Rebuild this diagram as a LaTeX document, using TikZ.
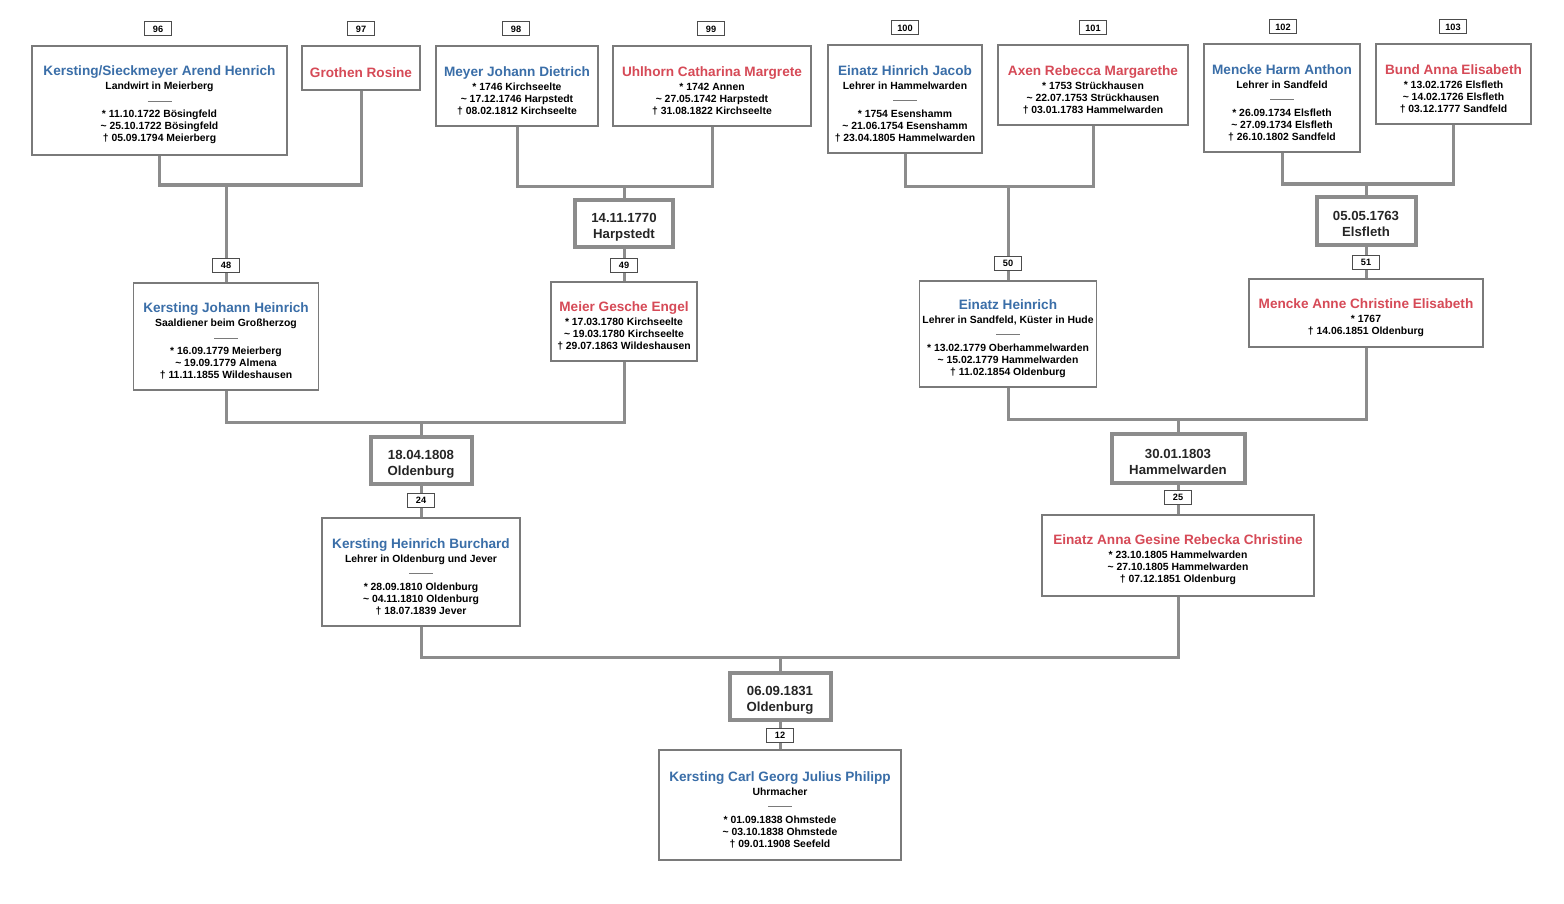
\documentclass[tikz,border=0pt]{standalone}
\usepackage{fontspec}
\setmainfont{Liberation Sans}
\usepackage{xcolor}
\usepackage{tikz}
\usetikzlibrary{backgrounds}
\definecolor{mannblau}{HTML}{3A6EA8}
\definecolor{fraurot}{HTML}{D64A57}
\definecolor{liniengrau}{HTML}{8C8C8C}
\definecolor{rahmengrau}{HTML}{7A7A7A}
\newcommand{\namefont}{\fontsize{6.8}{6}\selectfont}
\newcommand{\mann}[1]{{\rule{0pt}{9.5pt}\namefont\color{mannblau}#1}}
\newcommand{\frau}[1]{{\rule{0pt}{9.5pt}\namefont\color{fraurot}#1}}
\newcommand{\trenner}{\textcolor{rahmengrau}{\rule[0.4ex]{12pt}{0.4pt}}}
\newcommand{\geboren}{*~}
\newcommand{\getauft}{\textasciitilde~}
\newcommand{\gestorben}{†~}

\begin{document}
\begin{tikzpicture}[x=0.5pt, y=-0.5pt,
    every node/.style={font=\fontsize{5.2}{6}\selectfont\bfseries, align=center, inner sep=0pt},
    person/.style 2 args={draw=rahmengrau, line width=0.8pt, fill=white,
      minimum width=#1*0.5pt, minimum height=#2*0.5pt},                  % Personenkasten
    heirat/.style 2 args={draw=liniengrau, line width=2pt, fill=white,
      font=\fontsize{6.6}{8}\selectfont\bfseries, text=black!85,
      minimum width=#1*0.5pt, minimum height=#2*0.5pt},                  % Heiratsdatum
    nr/.style={draw=black!70, line width=0.5pt, fill=white, minimum width=13.5pt,
      minimum height=7pt, font=\fontsize{4.6}{5}\selectfont\bfseries},   % Kekule-Nummer
    ln/.style={draw=liniengrau, line width=1.5pt}
  ]
  \useasboundingbox (0,0) rectangle (1564,904);

  % ============ Generation 96--103 ==========================
  \node[nr] (n96) at (158,29) {96};
  \node[nr] (n97) at (361,29) {97};
  \node[nr] (n98) at (516,29) {98};
  \node[nr] (n99) at (711,29) {99};
  \node[nr] (n100) at (905,28) {100};
  \node[nr] (n101) at (1093,28) {101};
  \node[nr] (n102) at (1283,27) {102};
  \node[nr] (n103) at (1453,27) {103};

  \node[person={255}{109}] (p96) at (159.5,100.5)
    {\mann{Kersting/Sieckmeyer Arend Henrich}\\[1pt]Landwirt in Meierberg\\[1pt]\trenner\\[1pt]
     \geboren 11.10.1722 Bösingfeld\\\getauft 25.10.1722 Bösingfeld\\\gestorben 05.09.1794 Meierberg};
  \node[person={118}{44}] (p97) at (361,68) {\frau{Grothen Rosine}};
  \node[person={162}{80}] (p98) at (517,86)
    {\mann{Meyer Johann Dietrich}\\[1pt]\geboren 1746 Kirchseelte\\\getauft 17.12.1746 Harpstedt\\\gestorben 08.02.1812 Kirchseelte};
  \node[person={198}{80}] (p99) at (712,86)
    {\frau{Uhlhorn Catharina Margrete}\\[1pt]\geboren 1742 Annen\\\getauft 27.05.1742 Harpstedt\\\gestorben 31.08.1822 Kirchseelte};
  \node[person={154}{108}] (p100) at (905,99)
    {\mann{Einatz Hinrich Jacob}\\[1pt]Lehrer in Hammelwarden\\[1pt]\trenner\\[1pt]
     \geboren 1754 Esenshamm\\\getauft 21.06.1754 Esenshamm\\\gestorben 23.04.1805 Hammelwarden};
  \node[person={190}{80}] (p101) at (1093,85)
    {\frau{Axen Rebecca Margarethe}\\[1pt]\geboren 1753 Strückhausen\\\getauft 22.07.1753 Strückhausen\\\gestorben 03.01.1783 Hammelwarden};
  \node[person={156}{108}] (p102) at (1282,98)
    {\mann{Mencke Harm Anthon}\\[1pt]Lehrer in Sandfeld\\[1pt]\trenner\\[1pt]
     \geboren 26.09.1734 Elsfleth\\\getauft 27.09.1734 Elsfleth\\\gestorben 26.10.1802 Sandfeld};
  \node[person={155}{80}] (p103) at (1453.5,84)
    {\frau{Bund Anna Elisabeth}\\[1pt]\geboren 13.02.1726 Elsfleth\\\getauft 14.02.1726 Elsfleth\\\gestorben 03.12.1777 Sandfeld};

  \coordinate (j48) at (226,185);
  \coordinate (j49) at (624,186);
  \coordinate (j50) at (1008,186);
  \coordinate (j51) at (1366,184);

  % ============ Generation 48--51 ===========================
  \node[heirat={98}{47}] (m49) at (624,223.5) {\rule{0pt}{8pt}14.11.1770\\Harpstedt};
  \node[heirat={99}{48}] (m51) at (1366,221) {\rule{0pt}{8pt}05.05.1763\\Elsfleth};

  \node[nr] (n48) at (226,265) {48};
  \node[nr] (n49) at (624,265) {49};
  \node[nr] (n50) at (1008,263) {50};
  \node[nr] (n51) at (1366,262) {51};

  \node[person={185}{107}] (p48) at (226,336.5)
    {\mann{Kersting Johann Heinrich}\\[1pt]Saaldiener beim Großherzog\\[1pt]\trenner\\[1pt]
     \geboren 16.09.1779 Meierberg\\\getauft 19.09.1779 Almena\\\gestorben 11.11.1855 Wildeshausen};
  \node[person={146}{79}] (p49) at (624,321.5)
    {\frau{Meier Gesche Engel}\\[1pt]\geboren 17.03.1780 Kirchseelte\\\getauft 19.03.1780 Kirchseelte\\\gestorben 29.07.1863 Wildeshausen};
  \node[person={177}{106}] (p50) at (1008,334)
    {\mann{Einatz Heinrich}\\[1pt]Lehrer in Sandfeld, Küster in Hude\\[1pt]\trenner\\[1pt]
     \geboren 13.02.1779 Oberhammelwarden\\\getauft 15.02.1779 Hammelwarden\\\gestorben 11.02.1854 Oldenburg};
  \node[person={234}{68}] (p51) at (1366,313)
    {\frau{Mencke Anne Christine Elisabeth}\\[1pt]\geboren 1767\\\gestorben 14.06.1851 Oldenburg};

  \coordinate (j24) at (421,422);
  \coordinate (j25) at (1178,419);

  % ============ Generation 24--25 ===========================
  \node[heirat={101}{47}] (m24) at (421,460.5) {\rule{0pt}{8pt}18.04.1808\\Oldenburg};
  \node[heirat={133}{49}] (m25) at (1178,458.5) {\rule{0pt}{8pt}30.01.1803\\Hammelwarden};

  \node[nr] (n24) at (421,500) {24};
  \node[nr] (n25) at (1178,497) {25};

  \node[person={198}{108}] (p24) at (421,572)
    {\mann{Kersting Heinrich Burchard}\\[1pt]Lehrer in Oldenburg und Jever\\[1pt]\trenner\\[1pt]
     \geboren 28.09.1810 Oldenburg\\\getauft 04.11.1810 Oldenburg\\\gestorben 18.07.1839 Jever};
  \node[person={272}{81}] (p25) at (1178,555.5)
    {\frau{Einatz Anna Gesine Rebecka Christine}\\[1pt]\geboren 23.10.1805 Hammelwarden\\\getauft 27.10.1805 Hammelwarden\\\gestorben 07.12.1851 Oldenburg};

  \coordinate (j12) at (780,657);

  % ============ Proband 12 ==================================
  \node[heirat={101}{47}] (m12) at (780,696.5) {\rule{0pt}{8pt}06.09.1831\\Oldenburg};
  \node[nr] (n12) at (780,735) {12};
  \node[person={242}{110}] (p12) at (780,805)
    {\mann{Kersting Carl Georg Julius Philipp}\\[1pt]Uhrmacher\\[1pt]\trenner\\[1pt]
     \geboren 01.09.1838 Ohmstede\\\getauft 03.10.1838 Ohmstede\\\gestorben 09.01.1908 Seefeld};

  % Verbindungen hinter den Kaesten
  \begin{scope}[on background layer]
    \draw[ln] (p96.south) |- (j48) -| (p97.south);
    \draw[ln] (j48) -- (p48.north);
    \draw[ln] (p98.south) |- (j49) -| (p99.south);
    \draw[ln] (j49) -- (p49.north);
    \draw[ln] (p100.south) |- (j50) -| (p101.south);
    \draw[ln] (j50) -- (p50.north);
    \draw[ln] (p102.south) |- (j51) -| (p103.south);
    \draw[ln] (j51) -- (p51.north);

    \draw[ln] (p48.south) |- (j24) -| (p49.south);
    \draw[ln] (j24) -- (p24.north);
    \draw[ln] (p50.south) |- (j25) -| (p51.south);
    \draw[ln] (j25) -- (p25.north);

    \draw[ln] (p24.south) |- (j12) -| (p25.south);
    \draw[ln] (j12) -- (p12.north);
  \end{scope}
\end{tikzpicture}
\end{document}
